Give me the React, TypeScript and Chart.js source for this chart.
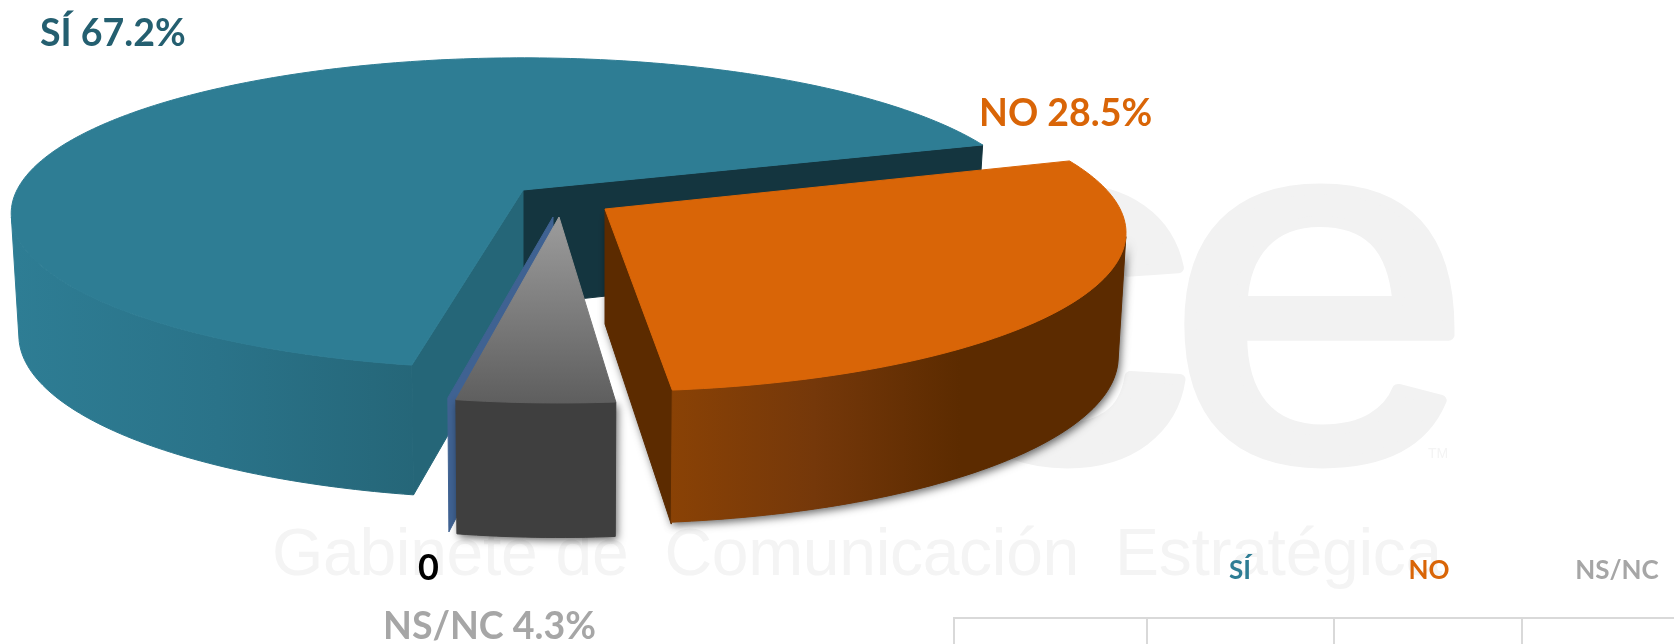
import React, { useEffect, useRef } from "react";
import { Chart, registerables } from "chart.js";

Chart.register(...registerables);

const categories = ["SÍ", "NO", "NS/NC", "0"];
const shares = [67.2, 28.5, 4.3, 0];
const legendLabels = ["SÍ", "NO", "NS/NC"];

const W = 1674;
const H = 644;
const FONT = "Lato";
const KX = 506;
const KY = 152;
const PERSP = 0.15;
const rad = (d: number) => (d * Math.PI) / 180;

type Look = {
  cx: number; cy: number; sx: number; sy: number; depth: number; slope: number;
  rimDepth: number; rimSlope: number; bx: number; turn: number; shadow: boolean;
};
// where each exploded slice sits on the page
const looks: Look[] = [
  { cx: 523, cy: 190, sx: 1, sy: 1, depth: 115, slope: 0.085, rimDepth: 121, rimSlope: 0.05, bx: 0.985, turn: 0.8, shadow: false },
  { cx: 605, cy: 209, sx: 1.018, sy: 1.02, depth: 115, slope: 0.105, rimDepth: 123, rimSlope: 0.05, bx: 0.985, turn: -0.9, shadow: true },
  { cx: 559, cy: 217, sx: 1, sy: 1.04, depth: 115, slope: 0.105, rimDepth: 115, rimSlope: 0.105, bx: 0.99, turn: 0, shadow: true },
  { cx: 553, cy: 217, sx: 1.02, sy: 1.03, depth: 115, slope: 0.105, rimDepth: 115, rimSlope: 0.105, bx: 0.99, turn: 0, shadow: false },
];

const topColours = ["#2e7d94", "#d96507", "#8a8a8a", "#3f6292"];
const labelColours = ["#245f70", "#d96507", "#a6a6a6", "#000000"];
const labelPlaces: { x: number; y: number; size: number }[] = [
  { x: 40, y: 34, size: 37.5 },
  { x: 979, y: 114, size: 37.5 },
  { x: 383, y: 627, size: 37.5 },
  { x: 418, y: 568, size: 36 },
];
const legendCentres = [
  { x: 1240, y: 571 },
  { x: 1429, y: 571 },
  { x: 1617, y: 571 },
];
const tableX = [954, 1147, 1334, 1522];
const tableY = 618;

type P = [number, number];

const pie3d = {
  id: "pie3d",
  beforeDatasetDraw() {
    return false;
  },
  beforeDatasetsDraw(chart: any) {
    const ctx: CanvasRenderingContext2D = chart.ctx;
    const arcs = chart.getDatasetMeta(0).data;

    // faint watermark behind the pie
    ctx.save();
    ctx.fillStyle = "#f2f2f2";
    ctx.strokeStyle = "#f2f2f2";
    ctx.textBaseline = "alphabetic";
    ctx.textAlign = "left";
    ctx.font = "500px 'Liberation Sans'";
    ctx.lineWidth = 11;
    ctx.lineJoin = "round";
    const stretched = (t: string, x: number) => {
      ctx.save();
      ctx.translate(x, 458);
      ctx.scale(1.1, 1);
      ctx.fillText(t, 0, 0);
      ctx.strokeText(t, 0, 0);
      ctx.restore();
    };
    stretched("c", 919);
    stretched("e", 1167);
    ctx.fillStyle = "#f4f4f4";
    ctx.font = "66px 'Liberation Sans'";
    (ctx as any).letterSpacing = "-0.3px";
    ctx.fillText("Gabinete de  Comunicación  Estratégica", 272, 575);
    (ctx as any).letterSpacing = "0px";
    ctx.font = "14px 'Liberation Sans'";
    ctx.fillText("TM", 1428, 458);
    ctx.restore();

    const project = (l: Look, phi: number): P => {
      const X = Math.sin(phi);
      const Y = Math.cos(phi);
      const w = 1 + PERSP * Y;
      return [l.cx + (KX * l.sx * X) / w, l.cy - (KY * l.sy * Y) / w];
    };
    const below = (l: Look, p: P, depth: number, slope: number): P => [
      l.cx + l.bx * (p[0] - l.cx),
      p[1] + depth + slope * (p[1] - l.cy),
    ];
    const trace = (pts: P[]) => {
      ctx.beginPath();
      pts.forEach((p, i) => (i ? ctx.lineTo(p[0], p[1]) : ctx.moveTo(p[0], p[1])));
      ctx.closePath();
    };
    const paint = (pts: P[], style: any) => {
      ctx.fillStyle = style;
      ctx.strokeStyle = style;
      ctx.lineWidth = 1;
      trace(pts);
      ctx.fill();
      ctx.stroke();
    };
    const sweep = (l: Look, a: number, b: number): P[] => {
      const n = Math.max(2, Math.ceil(Math.abs(b - a) / rad(1)));
      const out: P[] = [];
      for (let i = 0; i <= n; i++) out.push(project(l, a + ((b - a) * i) / n));
      return out;
    };
    const sideGradient = (x0: number, x1: number, stops: string[]) => {
      const g = ctx.createLinearGradient(x0, 0, x1, 0);
      stops.forEach((s, i) => g.addColorStop(i / (stops.length - 1), s));
      return g;
    };

    const frontLimit = (a: number, b: number): [number, number] | null => {
      // only the part of the rim facing the viewer
      const lo = rad(100);
      const hi = rad(260);
      const s = Math.max(a, lo);
      const e = Math.min(b, hi);
      return s < e ? [s, e] : null;
    };

    const face = (i: number, a: number, b: number, fills: { inner?: [P[], any][]; rim: any; top: any }) => {
      const l = looks[i];
      const apex: P = [l.cx, l.cy];
      const topPts = [apex, ...sweep(l, a, b)];
      const lim = frontLimit(a, b);
      const rimTop = lim ? sweep(l, lim[0], lim[1]) : [];
      const rimPts = [...rimTop, ...rimTop.slice().reverse().map((p) => below(l, p, l.rimDepth, l.rimSlope))];
      if (l.shadow) {
        ctx.save();
        ctx.shadowColor = "rgba(0,0,0,0.6)";
        ctx.shadowBlur = 8;
        ctx.shadowOffsetX = 2;
        ctx.shadowOffsetY = 3;
        ctx.fillStyle = "#555";
        trace(rimPts);
        ctx.fill();
        (fills.inner || []).forEach(([pts]) => {
          trace(pts);
          ctx.fill();
        });
        ctx.restore();
      }
      (fills.inner || []).forEach(([pts, colour]) => paint(pts, colour));
      if (rimPts.length) paint(rimPts, fills.rim);
      paint(topPts, fills.top);
    };

    const TWO_PI = Math.PI * 2;
    const angles = arcs.map((a: any, i: number) => {
      const p = a.getProps(["startAngle", "endAngle"], true);
      let s = p.startAngle + Math.PI / 2;
      let e = p.endAngle + Math.PI / 2;
      while (s >= TWO_PI) {
        s -= TWO_PI;
        e -= TWO_PI;
      }
      return [s, e].map((v) => v);
    });

    const wall = (i: number, phi: number): P[] => {
      const l = looks[i];
      const apex: P = [l.cx, l.cy];
      const o = project(l, phi);
      return [apex, o, below(l, o, l.depth, l.slope), below(l, apex, l.depth, l.slope)];
    };
    const turned = (i: number) => [angles[i][0] + rad(looks[i].turn), angles[i][1] + rad(looks[i].turn)];

    // SÍ
    const si = turned(0);
    face(0, si[0], angles[0][1], {
      inner: [
        [wall(0, angles[0][1]), "#14353f"],
        [wall(0, si[0]), "#256678"],
      ],
      rim: sideGradient(15, 420, ["#2e7d94", "#2a7389", "#256678"]),
      top: arcs[0].options.backgroundColor,
    });
    // NO
    const no = turned(1);
    face(1, no[0], no[1], {
      inner: [[wall(1, no[1]), "#5c2b00"]],
      rim: sideGradient(668, 960, ["#8a4205", "#75380a", "#5c2b00"]),
      top: arcs[1].options.backgroundColor,
    });
    // the empty slice: only its cut side shows
    paint(wall(3, angles[3][0]), arcs[3].options.backgroundColor);
    // NS/NC
    const g = ctx.createLinearGradient(0, 217, 0, 404);
    g.addColorStop(0, "#9c9c9c");
    g.addColorStop(1, "#5e5e5e");
    face(2, angles[2][0], angles[2][1], { rim: "#3f3f3f", top: g });
  },
  afterDatasetsDraw(chart: any) {
    const ctx: CanvasRenderingContext2D = chart.ctx;
    ctx.save();
    ctx.textBaseline = "middle";
    ctx.textAlign = "left";
    categories.forEach((c, i) => {
      const at = labelPlaces[i];
      const text = c === "0" ? "0" : `${c} ${shares[i].toFixed(1)}%`;
      ctx.font = `bold ${at.size}px ${FONT}`;
      ctx.fillStyle = labelColours[i];
      ctx.fillText(text, at.x, at.y);
    });
    ctx.font = `bold 26px ${FONT}`;
    ctx.textAlign = "center";
    legendLabels.forEach((c, i) => {
      ctx.fillStyle = i === 0 ? "#2e7d94" : labelColours[i];
      ctx.fillText(c, legendCentres[i].x, legendCentres[i].y);
    });
    ctx.strokeStyle = "#d9d9d9";
    ctx.lineWidth = 2;
    ctx.beginPath();
    ctx.moveTo(tableX[0] - 1, tableY);
    ctx.lineTo(W, tableY);
    tableX.forEach((x) => {
      ctx.moveTo(x, tableY);
      ctx.lineTo(x, H);
    });
    ctx.stroke();
    ctx.restore();
  },
};

export default function App() {
  const ref = useRef<HTMLCanvasElement>(null);
  useEffect(() => {
    document.body.style.margin = "0";
    document.body.style.overflow = "hidden";
    const chart = new Chart(ref.current as HTMLCanvasElement, {
      type: "pie",
      data: {
        labels: categories,
        datasets: [{ data: shares, backgroundColor: topColours, borderWidth: 0 }],
      },
      options: {
        responsive: false,
        animation: false,
        rotation: 190,
        plugins: { legend: { display: false }, tooltip: { enabled: false } },
      },
      plugins: [pie3d],
    } as any);
    return () => chart.destroy();
  }, []);
  return <canvas ref={ref} width={W} height={H} style={{ display: "block", background: "#ffffff" }} />;
}
